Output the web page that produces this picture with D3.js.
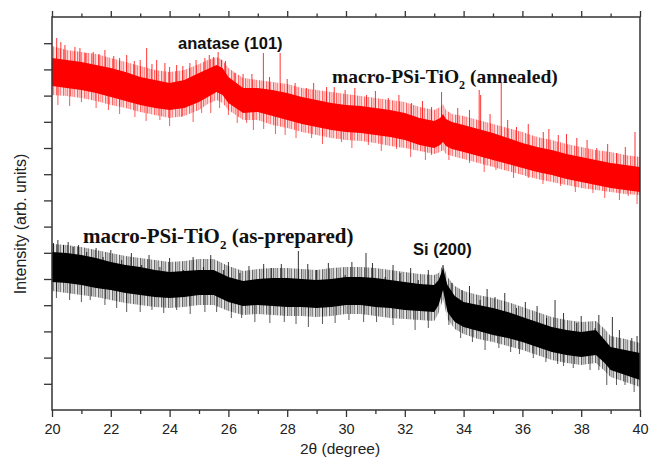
<!DOCTYPE html>
<html><head><meta charset="utf-8">
<script src="https://cdn.jsdelivr.net/npm/d3@7"></script>
<style>body{margin:0;background:#fff} svg{display:block}</style>
</head><body><svg id="c" width="656" height="461"></svg>
<script>
// ---------------- DATA (2θ in degree, intensity in arb. units) ----------------
const xMajorTicks = [20,22,24,26,28,30,32,34,36,38,40];
const xMinorTicks = [21,23,25,27,29,31,33,35,37,39];
const yTickCount = 15;

// annealed (red) trace: envelope of the noisy band
const redTheta   = [20,20.5,21,21.5,22,22.5,23,23.5,24,24.5,25,25.3,25.6,25.8,26,26.5,27,27.5,28,28.5,29,29.5,30,30.5,31,31.5,32,32.5,33,33.2,33.3,33.4,33.6,34,34.5,35,35.5,36,36.5,37,37.5,38,38.5,39,39.5,40];
const redCoreHi  = [352,350,348,345,342,338,333,330,327,330,337,341,345,342,333,322,322,320,317,313,310,307,305,304,302,300,297,292,289,292,296,291,288,285,281,277,272,267,263,260,256,253,250,247,245,243];
const redCoreLo  = [324,322,320,317,313,309,305,302,300,302,308,313,318,315,307,297,298,294,290,286,283,280,278,277,275,273,270,265,262,265,268,264,261,258,254,250,246,242,238,235,231,228,225,222,220,218];
const redOuterHi = [364,360,358,356,352,348,344,340,338,340,346,350,353,350,342,332,330,328,326,322,320,318,316,314,312,310,308,303,300,303,306,300,296,294,290,286,282,278,273,270,266,263,260,258,255,253];
const redOuterLo = [315,314,312,309,305,302,298,295,292,294,300,306,310,307,300,290,290,285,282,278,275,272,270,269,267,264,262,259,256,258,260,256,254,251,247,243,239,235,231,228,225,222,220,218,216,215];
const redSpikesUp = [[20.16,372],[20.3,368],[20.44,365],[20.78,363],[20.95,362],[21.15,357],[21.4,358],[21.6,356],[21.8,360],[22.1,354],[22.3,352],[22.54,355],[22.8,349],[23.0,350],[23.22,362],[23.4,346],[23.56,350],[23.84,347],[24.0,343],[24.24,345],[24.45,344],[24.69,347],[24.9,350],[25.2,352],[25.35,355],[25.49,353],[25.65,358],[25.77,350],[25.9,349],[26.22,337],[26.5,336],[26.8,336],[27.19,357],[27.4,333],[27.76,357],[28.0,331],[28.27,327],[28.66,322],[28.9,327],[29.34,323],[29.6,323],[29.97,320],[30.3,322],[30.7,315],[31.0,319],[31.44,312],[31.8,315],[32.23,307],[32.6,309],[32.91,303],[33.25,318],[33.8,302],[34.2,300],[34.53,320],[34.58,315],[34.9,296],[35.28,327],[35.5,290],[35.8,283],[36.2,286],[36.71,278],[36.9,281],[37.22,275],[37.5,276],[37.85,272],[38.2,270],[38.53,262],[38.9,266],[39.21,257],[39.5,263],[39.83,278]];
const redSpikesDown = [[20.2,305],[20.6,304],[21.0,308],[21.5,302],[21.92,300],[22.3,296],[22.82,293],[23.2,289],[23.67,290],[24.0,284],[24.41,293],[24.8,288],[25.09,297],[25.4,297],[25.7,302],[26.0,295],[26.3,287],[26.62,287],[26.85,280],[27.2,281],[27.6,276],[27.93,275],[28.3,272],[28.83,272],[29.2,266],[29.85,268],[30.2,262],[30.76,265],[31.2,259],[31.72,261],[32.2,253],[32.7,250],[32.91,255],[33.5,250],[34.2,247],[34.7,238],[35.1,240],[35.7,232],[36.2,232],[36.7,226],[37.3,224],[37.8,218],[38.4,217],[38.8,212],[39.3,210],[39.6,214],[39.9,206]];

// as-prepared (black) trace
const blackTheta   = [20,20.5,21,21.5,22,22.5,23,23.5,24,24.5,25,25.5,26,26.5,27,27.5,28,28.5,29,29.5,30,30.5,31,31.5,32,32.5,33,33.15,33.3,33.45,33.7,34,34.5,35,35.5,36,36.5,37,37.5,38,38.5,38.8,39,39.5,40];
const blackCoreHi  = [158,157,155,152,148,145,143,140,138,139,140,140,133,129,131,132,132,131,130,131,133,133,132,130,128,126,125,130,142,125,114,108,105,102,98,93,88,83,80,78,80,70,63,60,57];
const blackCoreLo  = [128,127,125,122,120,117,115,113,112,113,115,115,108,104,105,104,103,103,102,103,105,105,103,102,100,99,98,105,120,98,88,83,79,75,72,68,63,58,55,53,55,47,40,35,30];
const blackOuterHi = [166,165,163,160,157,154,152,150,148,149,151,151,144,139,141,142,142,141,140,142,143,143,142,140,138,136,135,137,145,133,124,119,115,112,108,103,98,93,90,88,89,81,74,71,67];
const blackOuterLo = [119,117,115,113,110,107,105,103,102,103,105,105,99,95,96,95,94,94,93,94,96,96,94,92,91,90,89,97,111,91,81,76,71,68,64,60,55,50,47,45,47,39,33,28,23];
const blackSpikesUp = [[20.05,167],[20.2,170],[20.39,165],[20.55,168],[20.72,163],[20.9,165],[21.18,158],[21.5,162],[21.74,153],[22.0,160],[22.37,150],[22.7,157],[23.05,145],[23.3,155],[23.67,143],[24.0,152],[24.47,140],[24.8,153],[25.15,143],[25.4,155],[25.83,140],[26.0,148],[26.39,137],[26.7,144],[27.2,146],[27.47,142],[27.8,146],[28.38,159],[28.7,146],[29.0,140],[29.4,147],[29.97,135],[30.2,148],[30.68,157],[30.9,147],[31.33,133],[31.6,145],[31.84,137],[32.2,142],[32.46,130],[32.8,140],[33.3,145],[33.6,127],[33.94,120],[34.2,124],[34.56,110],[34.8,121],[35.07,113],[35.4,117],[35.8,102],[36.1,108],[36.5,104],[36.82,92],[37.11,110],[37.4,97],[37.85,87],[38.0,94],[38.47,82],[38.6,95],[39.06,93],[39.3,80],[39.72,72],[39.9,74]];
const blackSpikesDown = [[20.15,112],[20.6,110],[21.0,108],[21.3,110],[21.8,105],[22.2,102],[22.54,98],[23.0,98],[23.4,100],[23.8,97],[24.24,100],[24.7,96],[25.2,98],[25.6,98],[26.1,92],[26.45,92],[26.9,88],[27.41,87],[27.9,88],[28.3,86],[28.72,83],[29.2,86],[29.63,87],[30.1,90],[30.6,88],[31.04,88],[31.6,85],[32.35,80],[32.8,82],[33.5,85],[33.9,72],[34.3,68],[34.73,60],[35.2,62],[35.6,58],[35.9,56],[36.37,52],[36.8,48],[37.2,46],[37.4,44],[37.73,42],[38.3,40],[38.6,40],[38.87,25],[39.2,25],[39.49,25],[39.8,18]];

const labelAnatase = "anatase (101)";
const labelSi = "Si (200)";
const xTitle = "2θ (degree)";
const yTitle = "Intensity (arb. units)";

// ---------------- DRAW ----------------
const svg = d3.select("#c");
const L=52, R=640, T=17, B=410;
const x = d3.scaleLinear().domain([20,40]).range([L,R]);
const y = d3.scaleLinear().domain([0,393]).range([B,T]);
const sans = "'Liberation Sans', Arial, sans-serif";
const serif = "'Liberation Serif', 'Times New Roman', serif";

const defs = svg.append("defs");
defs.append("clipPath").attr("id","clip")
  .append("rect").attr("x",L).attr("y",T).attr("width",R-L).attr("height",B-T);
function stripes(id, col){
  const p = defs.append("pattern").attr("id",id).attr("patternUnits","userSpaceOnUse")
    .attr("width",7).attr("height",461);
  p.append("rect").attr("x",0.2).attr("y",0).attr("width",1.1).attr("height",461).attr("fill",col).attr("opacity",0.75);
  p.append("rect").attr("x",2.1).attr("y",0).attr("width",0.9).attr("height",461).attr("fill",col).attr("opacity",0.4);
  p.append("rect").attr("x",3.6).attr("y",0).attr("width",1.2).attr("height",461).attr("fill",col).attr("opacity",0.6);
  p.append("rect").attr("x",5.5).attr("y",0).attr("width",0.8).attr("height",461).attr("fill",col).attr("opacity",0.3);
}
stripes("stR","#ff0000");
stripes("stK","#000000");

const plot = svg.append("g").attr("clip-path","url(#clip)");

function drawTrace(theta, coreHi, coreLo, outerHi, outerLo, up, down, col, fillId){
  const g = plot.append("g");
  const outer = d3.area().x((d,i)=>x(theta[i])).y0((d,i)=>y(outerLo[i])).y1((d,i)=>y(outerHi[i]));
  const core  = d3.area().x((d,i)=>x(theta[i])).y0((d,i)=>y(coreLo[i])).y1((d,i)=>y(coreHi[i]));
  g.append("path").datum(theta).attr("d",outer).attr("fill",`url(#${fillId})`);
  g.append("path").datum(theta).attr("d",core).attr("fill",col);
  const mid = d3.scaleLinear().domain(theta).range(theta.map((t,i)=>(coreHi[i]+coreLo[i])/2));
  g.selectAll("line.up").data(up).join("line")
    .attr("x1",d=>x(d[0])).attr("x2",d=>x(d[0]))
    .attr("y1",d=>y(mid(d[0]))).attr("y2",d=>y(d[1]))
    .attr("stroke",col).attr("stroke-width",1).attr("stroke-opacity",0.8);
  g.selectAll("line.dn").data(down).join("line")
    .attr("x1",d=>x(d[0])).attr("x2",d=>x(d[0]))
    .attr("y1",d=>y(mid(d[0]))).attr("y2",d=>y(d[1]))
    .attr("stroke",col).attr("stroke-width",1).attr("stroke-opacity",0.65);
}
drawTrace(redTheta, redCoreHi, redCoreLo, redOuterHi, redOuterLo, redSpikesUp, redSpikesDown, "#ff0000", "stR");
drawTrace(blackTheta, blackCoreHi, blackCoreLo, blackOuterHi, blackOuterLo, blackSpikesUp, blackSpikesDown, "#000000", "stK");

// axes
const axCol = "#333";
function style(g){ g.select(".domain").remove(); g.selectAll("line").attr("stroke",axCol).attr("stroke-width",1.3);
  g.selectAll("text").attr("font-family",sans).attr("font-size",14.5).attr("fill","#222"); }
svg.append("g").attr("transform",`translate(0,${B})`)
  .call(d3.axisBottom(x).tickValues(xMajorTicks).tickSize(7).tickSizeOuter(0).tickPadding(7).tickFormat(d3.format("d"))).call(style);
svg.append("g").attr("transform",`translate(0,${B})`)
  .call(d3.axisBottom(x).tickValues(xMinorTicks).tickSize(4).tickFormat("")).call(style);
svg.append("g").attr("transform",`translate(0,${T})`)
  .call(d3.axisTop(x).tickValues(xMajorTicks).tickSize(6).tickFormat("")).call(style);
svg.append("g").attr("transform",`translate(0,${T})`)
  .call(d3.axisTop(x).tickValues(xMinorTicks).tickSize(3.5).tickFormat("")).call(style);
const yTicks = d3.range(1, yTickCount).map(i=>i*393/yTickCount);
svg.append("g").attr("transform",`translate(${L},0)`)
  .call(d3.axisLeft(y).tickValues(yTicks).tickSize(8).tickFormat("")).call(style);

svg.append("rect").attr("x",L).attr("y",T).attr("width",R-L).attr("height",B-T)
  .attr("fill","none").attr("stroke",axCol).attr("stroke-width",1.5);

// titles
svg.append("text").attr("x",340).attr("y",454).attr("text-anchor","middle")
  .attr("font-family",sans).attr("font-size",15.5).attr("fill","#222").text(xTitle);
svg.append("text").attr("transform","translate(26,224) rotate(-90)").attr("text-anchor","middle")
  .attr("font-family",sans).attr("font-size",16).attr("fill","#222").text(yTitle);

// annotations
svg.append("text").attr("x",178).attr("y",49).attr("font-family",sans).attr("font-weight","bold")
  .attr("font-size",16.5).attr("fill","#111").text(labelAnatase);
svg.append("text").attr("x",413).attr("y",255).attr("font-family",sans).attr("font-weight","bold")
  .attr("font-size",16.5).attr("fill","#111").text(labelSi);

function sampleLabel(x0, y0, size, suffix){
  const t = svg.append("text").attr("x",x0).attr("y",y0).attr("font-family",serif)
    .attr("font-weight","bold").attr("font-size",size).attr("fill","#111");
  t.append("tspan").text("macro-PSi-TiO");
  t.append("tspan").attr("font-size",size*0.62).attr("dy",size*0.3).text("2");
  t.append("tspan").attr("dy",-size*0.3).text(" " + suffix);
}
sampleLabel(332, 83, 19.5, "(annealed)");
sampleLabel(83, 243, 21, "(as-prepared)");
</script>
</body></html>
